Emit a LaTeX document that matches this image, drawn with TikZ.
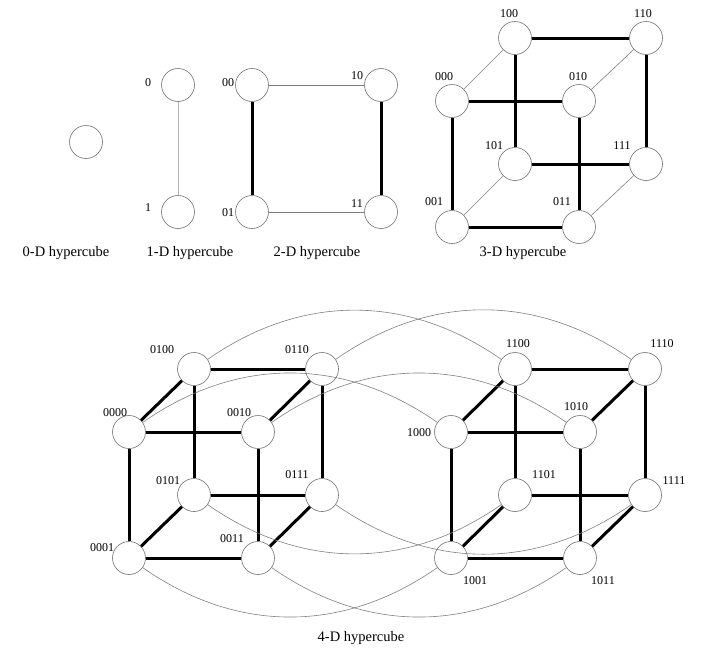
\documentclass[tikz,border=0pt]{standalone}
\usepackage{fontspec}
\setmainfont{Liberation Serif}
\begin{document}
\begin{tikzpicture}[x=1pt,y=-1pt,
  vtx/.style={circle, draw=black!55, fill=white, minimum size=33pt, inner sep=0pt, line width=0.6pt},
  lbl/.style={font=\fontsize{12}{12}\selectfont, inner sep=0pt},
  captxt/.style={font=\fontsize{14.5}{15}\selectfont, inner sep=0pt},
  thk/.style={line width=3pt, black},
  thn/.style={line width=0.6pt, black!50},
  lgt/.style={line width=0.8pt, black!30},
  arcup/.style={thn, bend left=35},
  arcdn/.style={thn, bend right=35}]
\useasboundingbox (0,0) rectangle (711,659);

% 0-D
\node[vtx] (z) at (86,142) {};
\node[captxt] (cz) at (66,253) {0-D hypercube};

% 1-D
\node[vtx] (a0) at (178,85) {};
\node[vtx] (a1) at (178,212) {};
\draw[lgt] (a0) -- (a1);
\node[lbl] (la0) at (148,83) {0};
\node[lbl] (la1) at (148,208) {1};
\node[captxt] (ca) at (190,253) {1-D hypercube};

% 2-D
\node[vtx] (b00) at (252,85) {};
\node[vtx] (b10) at (381,85) {};
\node[vtx] (b01) at (252,212) {};
\node[vtx] (b11) at (381,212) {};
\draw[thn] (b00) -- (b10);
\draw[thn] (b01) -- (b11);
\draw[thk] (b00) -- (b01);
\draw[thk] (b10) -- (b11);
\node[lbl] (lb00) at (228,83) {00};
\node[lbl] (lb10) at (357,76) {10};
\node[lbl] (lb01) at (228,213) {01};
\node[lbl] (lb11) at (357,204) {11};
\node[captxt] (cb) at (317,253) {2-D hypercube};

% 3-D
\node[vtx] (c100) at (515,38) {};
\node[vtx] (c110) at (646,38) {};
\node[vtx] (c000) at (452,101) {};
\node[vtx] (c010) at (579,101) {};
\node[vtx] (c101) at (515,164) {};
\node[vtx] (c111) at (646,164) {};
\node[vtx] (c001) at (452,227) {};
\node[vtx] (c011) at (579,227) {};
\draw[thn] (c000) -- (c100);
\draw[thn] (c010) -- (c110);
\draw[thn] (c001) -- (c101);
\draw[thn] (c011) -- (c111);
\draw[thk] (c100) -- (c110);
\draw[thk] (c000) -- (c010);
\draw[thk] (c101) -- (c111);
\draw[thk] (c001) -- (c011);
\draw[thk] (c100) -- (c101);
\draw[thk] (c110) -- (c111);
\draw[thk] (c000) -- (c001);
\draw[thk] (c010) -- (c011);
\node[lbl] (lc100) at (509,14) {100};
\node[lbl] (lc110) at (643,14) {110};
\node[lbl] (lc000) at (444,77) {000};
\node[lbl] (lc010) at (578,77) {010};
\node[lbl] (lc101) at (494,146) {101};
\node[lbl] (lc111) at (622,146) {111};
\node[lbl] (lc001) at (434,202) {001};
\node[lbl] (lc011) at (562,202) {011};
\node[captxt] (cc) at (523,253) {3-D hypercube};

% 4-D
\node[vtx] (d0100) at (194,369) {};
\node[vtx] (d0110) at (322,369) {};
\node[vtx] (d0000) at (129,432) {};
\node[vtx] (d0010) at (258,432) {};
\node[vtx] (d0101) at (194,495) {};
\node[vtx] (d0111) at (322,495) {};
\node[vtx] (d0001) at (129,558) {};
\node[vtx] (d0011) at (258,558) {};
\node[vtx] (d1100) at (515,369) {};
\node[vtx] (d1110) at (645,369) {};
\node[vtx] (d1000) at (451,432) {};
\node[vtx] (d1010) at (580,432) {};
\node[vtx] (d1101) at (515,495) {};
\node[vtx] (d1111) at (645,495) {};
\node[vtx] (d1001) at (451,558) {};
\node[vtx] (d1011) at (580,558) {};

\foreach \p in {0,1}{
  \draw[thk] (d\p100) -- (d\p110);
  \draw[thk] (d\p000) -- (d\p010);
  \draw[thk] (d\p101) -- (d\p111);
  \draw[thk] (d\p001) -- (d\p011);
  \draw[thk] (d\p100) -- (d\p101);
  \draw[thk] (d\p110) -- (d\p111);
  \draw[thk] (d\p000) -- (d\p001);
  \draw[thk] (d\p010) -- (d\p011);
  \draw[thk] (d\p000) -- (d\p100);
  \draw[thk] (d\p010) -- (d\p110);
  \draw[thk] (d\p001) -- (d\p101);
  \draw[thk] (d\p011) -- (d\p111);
}
\draw[arcup] (d0100) to (d1100);
\draw[arcup] (d0110) to (d1110);
\draw[arcup] (d0000) to (d1000);
\draw[arcup] (d0010) to (d1010);
\draw[arcdn] (d0101) to (d1101);
\draw[arcdn] (d0111) to (d1111);
\draw[arcdn] (d0001) to (d1001);
\draw[arcdn] (d0011) to (d1011);

\node[lbl] (ld0100) at (162,350) {0100};
\node[lbl] (ld0110) at (297,350) {0110};
\node[lbl] (ld0000) at (115,413) {0000};
\node[lbl] (ld0010) at (239,413) {0010};
\node[lbl] (ld0101) at (168,481) {0101};
\node[lbl] (ld0111) at (297,475) {0111};
\node[lbl] (ld0001) at (102,548) {0001};
\node[lbl] (ld0011) at (232,539) {0011};
\node[lbl] (ld1100) at (518,344) {1100};
\node[lbl] (ld1110) at (662,344) {1110};
\node[lbl] (ld1000) at (419,433) {1000};
\node[lbl] (ld1010) at (576,407) {1010};
\node[lbl] (ld1101) at (544,475) {1101};
\node[lbl] (ld1111) at (674,481) {1111};
\node[lbl] (ld1001) at (475,581) {1001};
\node[lbl] (ld1011) at (603,581) {1011};
\node[captxt] (cd) at (361,638) {4-D hypercube};
\end{tikzpicture}
\end{document}
